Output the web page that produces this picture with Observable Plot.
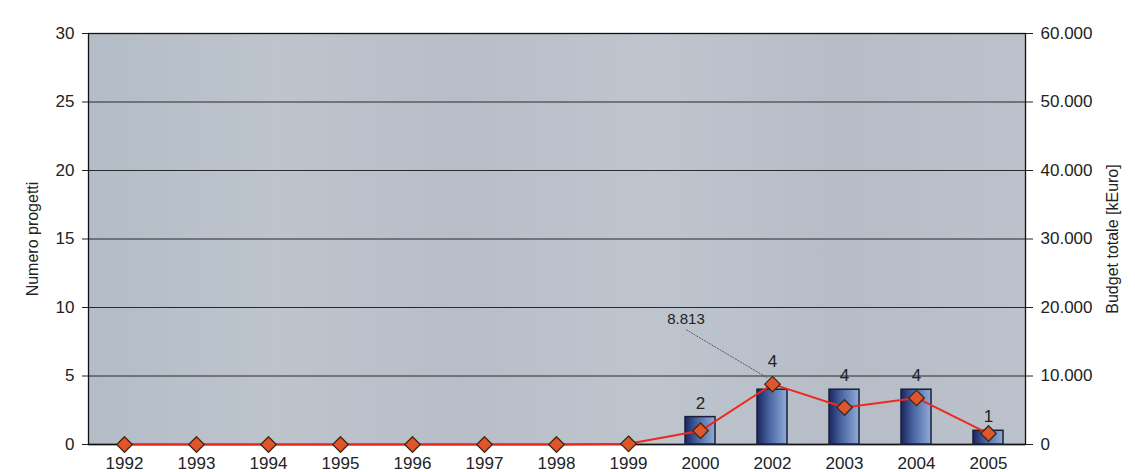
<!DOCTYPE html>
<html>
<head>
<meta charset="utf-8">
<script src="https://cdn.jsdelivr.net/npm/d3@7"></script>
<script src="https://cdn.jsdelivr.net/npm/@observablehq/plot@0.6"></script>
<style>
  html, body { margin: 0; padding: 0; background: #ffffff; }
  #chart { width: 1135px; height: 472px; }
</style>
</head>
<body>
<div id="chart"></div>
<script>
// Data
const years = ["1992","1993","1994","1995","1996","1997","1998","1999","2000","2002","2003","2004","2005"];
const projects = [0,0,0,0,0,0,0,0,2,4,4,4,1];
const budget = [0,0,0,0,0,0,0,100,2000,8813,5400,6800,1600];
const leftTicks = [0,5,10,15,20,25,30];
const rightTicks = [0,10000,20000,30000,40000,50000,60000];
const annotatedYear = "2002";
const annotatedLabel = "8.813";

const ratio = 60000 / 30;
const barData = years.map((y, i) => ({year: y, n: projects[i]})).filter(d => d.n > 0);
const barPlain = barData.filter(d => d.year !== annotatedYear);
const barAnnot = barData.filter(d => d.year === annotatedYear);
const lineData = years.map((y, i) => ({year: y, b: budget[i]}));
const fmtDot = d => d3.format(",")(d).replace(/,/g, ".");

const FONT = "'Liberation Sans', Arial, sans-serif";

const plot = Plot.plot({
  width: 1135,
  height: 472,
  marginLeft: 88,
  marginRight: 110,
  marginTop: 33,
  marginBottom: 28,
  style: {fontFamily: FONT, fontSize: "17px", color: "#222", background: "transparent"},
  x: {type: "band", domain: years, paddingInner: 0.58, paddingOuter: 0.29, axis: null},
  y: {domain: [0, 30], axis: null},
  marks: [
    Plot.frame({fill: "url(#bgGrad)", stroke: "none"}),
    Plot.ruleY(leftTicks, {stroke: "#1a1a1a", strokeWidth: 0.9}),
    Plot.frame({stroke: "#111", strokeWidth: 1.3}),
    Plot.ruleY([0], {stroke: "#111", strokeWidth: 1.6}),
    Plot.axisX({tickSize: 0, tickPadding: 12, fontSize: 17, label: null}),
    Plot.axisY({anchor: "left", ticks: leftTicks, tickSize: 6, tickPadding: 8, fontSize: 17,
      label: "Numero progetti", labelAnchor: "center", labelArrow: "none", labelOffset: 62}),
    Plot.axisY({anchor: "right", ticks: leftTicks, tickSize: 7, tickPadding: 8, fontSize: 17,
      tickFormat: d => fmtDot(d * ratio),
      label: "Budget totale [kEuro]", labelAnchor: "center", labelArrow: "none", labelOffset: 92}),
    Plot.barY(barData, {x: "year", y: "n", fill: "url(#barGrad)", stroke: "#1a1f3a", strokeWidth: 1.5}),
    Plot.text(barPlain, {x: "year", y: "n", text: d => String(d.n), dy: -14, fontSize: 17, fill: "#222"}),
    Plot.text(barAnnot, {x: "year", y: "n", text: d => String(d.n), dy: -28, fontSize: 17, fill: "#222"}),
    Plot.line(lineData, {x: "year", y: d => d.b / ratio, stroke: "#ee2a1e", strokeWidth: 2}),
    Plot.dot(lineData, {x: "year", y: d => d.b / ratio, symbol: "diamond2", r: 7,
      fill: "#e2552a", stroke: "#3a2a1a", strokeWidth: 1.3})
  ]
});

const svg = d3.select(plot);
// gradients
const defs = svg.insert("defs", ":first-child");
const bg = defs.append("linearGradient").attr("id", "bgGrad").attr("x1", 0).attr("x2", 1).attr("y1", 0).attr("y2", 0);
[["0%", "#b4bcc7"], ["20%", "#bdc4cc"], ["40%", "#b7bec8"], ["60%", "#bec5cd"], ["80%", "#b6bdc7"], ["100%", "#bbc2cb"]]
  .forEach(([o, c]) => bg.append("stop").attr("offset", o).attr("stop-color", c));
const bar = defs.append("linearGradient").attr("id", "barGrad").attr("x1", 0).attr("x2", 1).attr("y1", 0).attr("y2", 0);
[["0%", "#1a2660"], ["45%", "#4d6aa6"], ["100%", "#93abd6"]]
  .forEach(([o, c]) => bar.append("stop").attr("offset", o).attr("stop-color", c));

// axis label font size
svg.selectAll("[aria-label='y-axis label']").attr("font-size", 16);

// leader annotation for the 2002 budget, positioned via the plot's own scales
const sx = plot.scale("x"), sy = plot.scale("y");
const px = sx.apply(annotatedYear) + sx.bandwidth / 2;
const py = sy.apply(budget[years.indexOf(annotatedYear)] / ratio);
const ann = svg.append("g");
ann.append("line")
  .attr("x1", px - 86).attr("y1", py - 54)
  .attr("x2", px - 5).attr("y2", py - 6)
  .attr("stroke", "#4a4f58").attr("stroke-width", 0.9).attr("stroke-dasharray", "2,1");
ann.append("text")
  .attr("x", px - 86).attr("y", py - 60)
  .attr("text-anchor", "middle")
  .attr("font-family", FONT).attr("font-size", 15).attr("fill", "#222")
  .text(annotatedLabel);

document.getElementById("chart").appendChild(plot);
</script>
</body>
</html>
